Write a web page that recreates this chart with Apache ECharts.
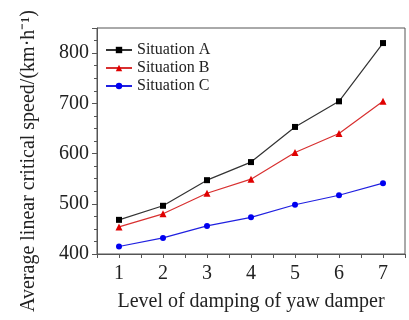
<!DOCTYPE html>
<html><head><meta charset="utf-8">
<script src="https://cdn.jsdelivr.net/npm/echarts@6/dist/echarts.min.js"></script>
<style>html,body{margin:0;padding:0;background:#fff}#c{width:409px;height:320px}</style>
</head><body><div id="c"></div>
<script>
const levels = [1, 2, 3, 4, 5, 6, 7];
const situationA = [468, 496, 547, 583, 653, 704, 820];
const situationB = [454, 480, 521, 549, 602, 640, 704];
const situationC = [415, 432, 456, 473, 498, 517, 541];
const seriesNames = ['Situation A', 'Situation B', 'Situation C'];
const xTitle = 'Level of damping of yaw damper';
const yTitle = 'Average linear critical speed/(km·h⁻¹)';

const font = 'Liberation Serif, Times New Roman, serif';
const chart = echarts.init(document.getElementById('c'), null, {renderer: 'canvas'});
const mk = (name, data, color, lineColor, symbol, size) => ({
  name, type: 'line', data: levels.map((x, i) => [x, data[i]]),
  symbol, symbolSize: size, showSymbol: true,
  itemStyle: {color}, lineStyle: {color: lineColor, width: 1.2}
});
chart.setOption({
  animation: false,
  grid: {left: 97, right: 4, top: 28, bottom: 66, show: true, borderColor: '#555', borderWidth: 1},
  legend: {
    left: 100, top: 37, orient: 'vertical', itemGap: 2, itemWidth: 26, itemHeight: 8,
    textStyle: {fontFamily: font, fontSize: 16, color: '#222'},
    data: seriesNames
  },
  xAxis: {
    type: 'value', min: 0.5, max: 7.5, interval: 0.5,
    axisLine: {lineStyle: {color: '#555'}},
    axisTick: {show: true, length: 4, lineStyle: {color: '#555'}},
    splitLine: {show: false},
    axisLabel: {fontFamily: font, fontSize: 20, color: '#222', margin: 10,
      formatter: v => (Number.isInteger(v) ? String(v) : '')},
    name: xTitle, nameLocation: 'middle', nameGap: 38,
    nameTextStyle: {fontFamily: font, fontSize: 20, color: '#222'}
  },
  yAxis: {
    type: 'value', min: 400, max: 850, interval: 100,
    axisLine: {show: true, lineStyle: {color: '#555'}},
    axisTick: {show: true, length: 5, lineStyle: {color: '#555'}},
    minorTick: {show: true, splitNumber: 4, length: 3, lineStyle: {color: '#555'}},
    splitLine: {show: false},
    axisLabel: {fontFamily: font, fontSize: 20, color: '#222', margin: 8, showMaxLabel: false,
      formatter: v => (v % 100 === 0 ? String(v) : '')},
    name: yTitle, nameLocation: 'middle', nameGap: 58,
    nameTextStyle: {fontFamily: font, fontSize: 20, color: '#222', padding: [0, 40, 0, 0]}
  },
  series: [
    mk(seriesNames[0], situationA, '#000', '#333', 'rect', 6),
    mk(seriesNames[1], situationB, '#e00000', '#d83030', 'triangle', 7),
    mk(seriesNames[2], situationC, '#0000f0', '#2020e0', 'circle', 6)
  ]
});
</script></body></html>
